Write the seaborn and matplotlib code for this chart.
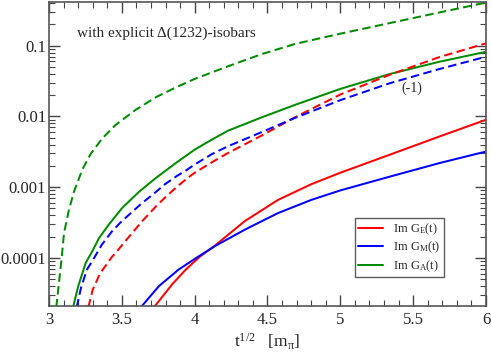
import numpy as np
import pandas as pd
import matplotlib
matplotlib.use("Agg")
import matplotlib.pyplot as plt
import seaborn as sns
from matplotlib.ticker import MultipleLocator, LogLocator, FixedLocator, FixedFormatter, NullFormatter

# ---- data (x = t^{1/2} in units of m_pi) ----
# solid curves
ge_x = [3.72, 3.847, 3.938, 4.03, 4.137, 4.343, 4.572, 4.80, 5.0, 5.34, 5.68, 6.0]
ge_y = [2.0e-5, 4.27e-5, 6.8e-5, 1.02e-4, 1.48e-4, 3.3e-4, 6.6e-4, 1.1e-3, 1.6e-3, 2.88e-3, 5.2e-3, 8.97e-3]

gm_x = [3.63, 3.755, 3.89, 4.03, 4.137, 4.343, 4.572, 4.80, 5.0, 5.34, 5.68, 6.0]
gm_y = [2.0e-5, 4.0e-5, 6.85e-5, 1.06e-4, 1.46e-4, 2.5e-4, 4.3e-4, 6.6e-4, 9.0e-4, 1.41e-3, 2.19e-3, 3.19e-3]

ga_x = [3.165, 3.201, 3.252, 3.297, 3.343, 3.41, 3.503, 3.618, 3.732, 3.87, 4.0, 4.12,
        4.23, 4.46, 4.69, 5.0, 5.34, 5.68, 6.0]
ga_y = [2.0e-5, 4.0e-5, 8.5e-5, 1.24e-4, 1.9e-4, 2.95e-4, 5.1e-4, 8.6e-4, 1.34e-3, 2.19e-3,
        3.39e-3, 4.73e-3, 6.3e-3, 9.7e-3, 1.46e-2, 2.45e-2, 3.98e-2, 5.93e-2, 8.2e-2]

# dashed curves (with explicit Delta(1232))
ge_d_x = [3.27, 3.30, 3.35, 3.43, 3.465, 3.55, 3.636, 3.69, 3.74, 3.80, 3.88, 3.94, 4.0,
          4.12, 4.23, 4.46, 4.69, 5.0, 5.34, 5.68, 6.0]
ge_d_y = [2.0e-5, 3.55e-5, 6.0e-5, 1.02e-4, 1.23e-4, 2.0e-4, 3.24e-4, 4.27e-4, 5.5e-4,
          7.24e-4, 1.02e-3, 1.29e-3, 1.6e-3, 2.26e-3, 3.05e-3, 5.37e-3, 9.77e-3, 2.04e-2,
          3.89e-2, 6.9e-2, 0.108]

gm_d_x = [3.19, 3.22, 3.26, 3.31, 3.36, 3.43, 3.49, 3.56, 3.636, 3.72, 3.796, 3.88, 3.94,
          4.0, 4.12, 4.23, 4.46, 4.69, 5.0, 5.34, 5.68, 6.0]
gm_d_y = [2.0e-5, 3.8e-5, 6.8e-5, 1.0e-4, 1.51e-4, 2.34e-4, 3.16e-4, 4.27e-4, 5.9e-4,
          8.1e-4, 1.1e-3, 1.45e-3, 1.72e-3, 2.09e-3, 2.95e-3, 3.8e-3, 6.0e-3, 9.55e-3,
          1.7e-2, 2.95e-2, 4.68e-2, 6.98e-2]

ga_d_x = [3.050, 3.087, 3.103, 3.137, 3.172, 3.229, 3.286, 3.366, 3.458, 3.595, 3.732, 3.87,
          4.0, 4.23, 4.46, 4.69, 5.0, 5.34, 5.68, 6.0]
ga_d_y = [2.0e-5, 1.0e-4, 2.24e-4, 4.8e-4, 8.7e-4, 1.78e-3, 2.95e-3, 4.9e-3, 7.6e-3, 1.24e-2,
          1.86e-2, 2.57e-2, 3.39e-2, 5.13e-2, 7.6e-2, 0.106, 0.148, 0.209, 0.295, 0.407]

legend_labels = ["Im G$_\\mathrm{E}$(t)", "Im G$_\\mathrm{M}$(t)", "Im G$_\\mathrm{A}$(t)"]
x_ticks = [3, 3.5, 4, 4.5, 5, 5.5, 6]
x_tick_labels = ["3", "3.5", "4", "4.5", "5", "5.5", "6"]
y_ticks = [1e-4, 1e-3, 1e-2, 1e-1]
y_tick_labels = ["0.0001", "0.001", "0.01", "0.1"]

RED, BLUE, GREEN = "#ff0000", "#0000ff", "#008b00"

sns.set_style("ticks")
plt.rcParams["font.family"] = ["Liberation Serif", "DejaVu Serif"]
plt.rcParams["mathtext.fontset"] = "custom"
plt.rcParams["mathtext.rm"] = "Liberation Serif"
plt.rcParams["mathtext.it"] = "Liberation Serif:italic"
plt.rcParams["mathtext.default"] = "rm"

fig = plt.figure(figsize=(4.91, 3.54), dpi=100)
ax = fig.add_axes([0.0998, 0.1356, 0.89, 0.8588])

dash = (0, (4.2, 2.2))
series = [
    (ge_x, ge_y, RED, "-", legend_labels[0]),
    (gm_x, gm_y, BLUE, "-", legend_labels[1]),
    (ga_x, ga_y, GREEN, "-", legend_labels[2]),
    (ge_d_x, ge_d_y, RED, dash, None),
    (gm_d_x, gm_d_y, BLUE, dash, None),
    (ga_d_x, ga_d_y, GREEN, dash, None),
]
for xs, ys, c, ls, lab in series:
    df = pd.DataFrame({"x": xs, "y": ys})
    sns.lineplot(data=df, x="x", y="y", ax=ax, color=c, linestyle=ls,
                 linewidth=1.45, estimator=None, sort=False,
                 label=lab, legend=False)

ax.set_yscale("log")
ax.set_xlim(3, 6)
ax.set_ylim(2.09e-5, 0.415)

ax.xaxis.set_major_locator(FixedLocator(x_ticks))
ax.xaxis.set_major_formatter(FixedFormatter(x_tick_labels))
ax.xaxis.set_minor_locator(MultipleLocator(0.1))
ax.yaxis.set_major_locator(FixedLocator(y_ticks))
ax.yaxis.set_major_formatter(FixedFormatter(y_tick_labels))
ax.yaxis.set_minor_locator(LogLocator(base=10, subs=np.arange(2, 10)))
ax.yaxis.set_minor_formatter(NullFormatter())

ax.tick_params(which="both", direction="in", top=True, right=True, labelsize=12,
               color="#444444")
ax.tick_params(which="major", length=8, width=1.0, pad=2)
ax.tick_params(which="minor", length=4, width=0.8)
ax.tick_params(axis="x", which="major", pad=4)
for s in ax.spines.values():
    s.set_linewidth(1.2)
    s.set_color("#555555")

ax.set_xlabel("t$^{1/2}$   [m$_{π}$]", fontsize=12.5, labelpad=3)
ax.set_ylabel("")

ax.text(0.063, 0.885, "with explicit Δ(1232)-isobars", transform=ax.transAxes,
        fontsize=11, ha="left", va="baseline")
ax.text(5.49, 0.025, "(-1)", fontsize=10, ha="center", va="center")

handles, labels = ax.get_legend_handles_labels()
leg = ax.legend(handles, labels, loc="lower left", bbox_to_anchor=(0.700, 0.095),
                fontsize=9, frameon=True, fancybox=False, handlelength=2.0,
                handletextpad=0.75, labelspacing=0.22, borderpad=0.28,
                borderaxespad=0)
leg.get_frame().set_edgecolor("#333333")
leg.get_frame().set_linewidth(1.0)

fig.savefig("out.png", dpi=100)
